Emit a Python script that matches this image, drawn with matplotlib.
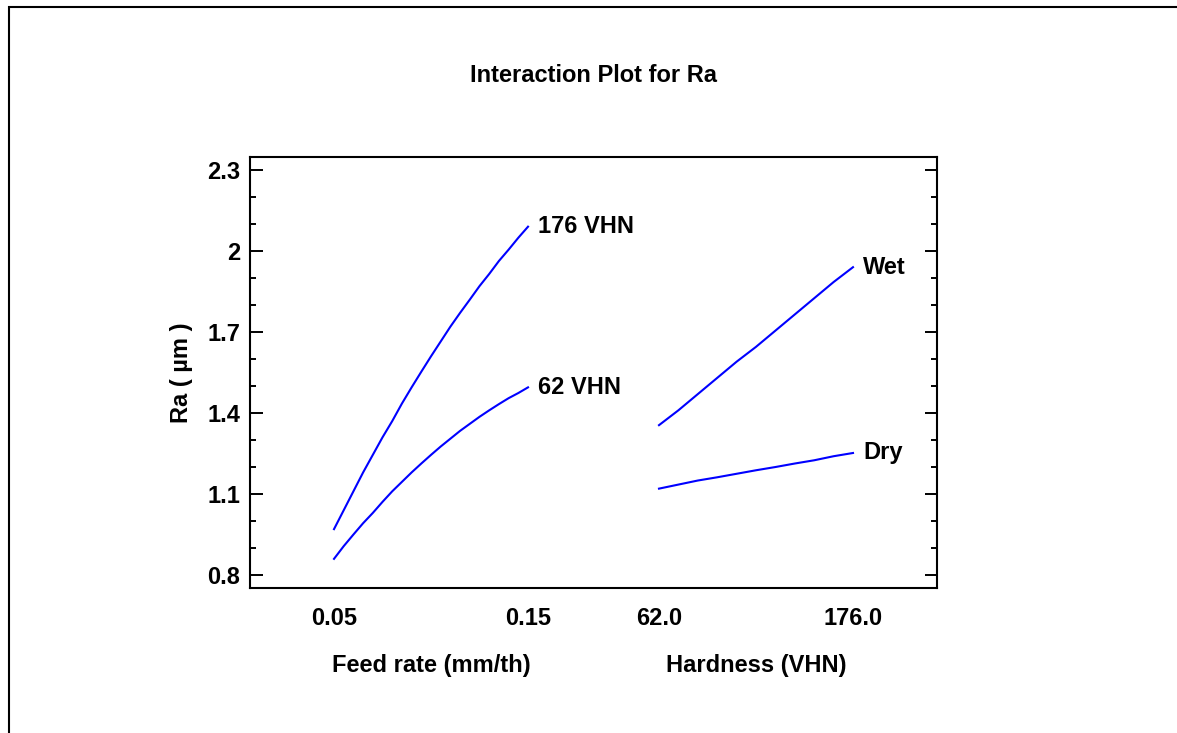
import numpy as np
import matplotlib
matplotlib.use("Agg")
import matplotlib.pyplot as plt
from matplotlib.patches import Rectangle
from matplotlib.ticker import MultipleLocator

plt.rcParams['font.family'] = ['Liberation Sans', 'DejaVu Sans']
plt.rcParams['font.weight'] = 'bold'

# fitted Ra along feed rate, one curve per hardness level
feed_rate = [0.050, 0.055, 0.060, 0.065, 0.070, 0.075, 0.080, 0.085, 0.090, 0.095, 0.100,
             0.105, 0.110, 0.115, 0.120, 0.125, 0.130, 0.135, 0.140, 0.145, 0.150]
ra_176_vhn = [0.97, 1.04, 1.11, 1.18, 1.245, 1.31, 1.37, 1.435, 1.495, 1.553, 1.61,
              1.665, 1.72, 1.771, 1.82, 1.87, 1.915, 1.963, 2.005, 2.049, 2.09]
ra_62_vhn = [0.86, 0.907, 0.95, 0.992, 1.03, 1.071, 1.11, 1.145, 1.18, 1.213, 1.245,
             1.276, 1.305, 1.334, 1.36, 1.386, 1.41, 1.433, 1.455, 1.474, 1.495]

# fitted Ra along hardness, one curve per cooling condition
hardness = [62.0, 73.4, 84.8, 96.2, 107.6, 119.0, 130.4, 141.8, 153.2, 164.6, 176.0]
ra_wet = [1.355, 1.41, 1.47, 1.53, 1.59, 1.645, 1.705, 1.765, 1.825, 1.885, 1.94]
ra_dry = [1.12, 1.135, 1.15, 1.162, 1.175, 1.188, 1.20, 1.213, 1.225, 1.24, 1.252]

feed_ticks = ['0.05', '0.15']
hard_ticks = ['62.0', '176.0']

# each factor is drawn in its own unit-wide slot along the x axis
slot_start = [0.0, 1.675]


def to_slot(values, k):
    v = np.asarray(values, dtype=float)
    return slot_start[k] + (v - v.min()) / (v.max() - v.min())


fig = plt.figure(figsize=(11.77, 7.33), dpi=100)
ax = fig.add_axes([0.2124, 0.1978, 0.5837, 0.588])

blue = '#0000ff'
series = [
    (to_slot(feed_rate, 0), ra_176_vhn, '176 VHN'),
    (to_slot(feed_rate, 0), ra_62_vhn, '62 VHN'),
    (to_slot(hardness, 1), ra_wet, 'Wet'),
    (to_slot(hardness, 1), ra_dry, 'Dry'),
]
for xs, ys, name in series:
    ax.plot(xs, ys, color=blue, lw=1.5)
    ax.annotate(name, (xs[-1], ys[-1]), xytext=(7.5, 0), textcoords='offset points',
                ha='left', va='center', fontsize=17, fontweight='bold')

ax.set_xlim(-0.433, 3.108)
ax.set_ylim(0.752, 2.348)

ax.yaxis.set_major_locator(MultipleLocator(0.3))
ax.yaxis.set_minor_locator(MultipleLocator(0.1))
ax.set_yticks([0.8, 1.1, 1.4, 1.7, 2.0, 2.3])
ax.set_yticklabels(['0.8', '1.1', '1.4', '1.7', '2', '2.3'])
ax.tick_params(axis='y', which='major', direction='in', length=9, width=1.4,
               left=True, right=True, labelsize=17, pad=7)
ax.tick_params(axis='y', which='minor', direction='in', length=4, width=1.4,
               left=True, right=True)

xt = [slot_start[0], slot_start[0] + 1, slot_start[1], slot_start[1] + 1]
ax.set_xticks(xt)
ax.set_xticklabels(feed_ticks + hard_ticks)
ax.tick_params(axis='x', length=0, labelsize=17, pad=14)

for s in ax.spines.values():
    s.set_linewidth(1.5)

ax.set_ylabel('Ra ( µm )', fontsize=17, fontweight='bold', va='center')
ax.yaxis.set_label_coords(-0.099, 0.5)

xlab = ax.get_xaxis_transform()
ax.text(slot_start[0] + 0.5, -0.1787, 'Feed rate (mm/th)', transform=xlab,
        ha='center', va='center', fontsize=17, fontweight='bold')
ax.text(slot_start[1] + 0.5, -0.1787, 'Hardness (VHN)', transform=xlab,
        ha='center', va='center', fontsize=17, fontweight='bold')

fig.text(593 / 1177, 1 - 76 / 733, 'Interaction Plot for Ra', ha='center', va='center',
         fontsize=17, fontweight='bold')

# outer frame (only the top and left edges fall inside the canvas)
fig.patches.append(Rectangle((9 / 1177, -0.2), 1.5, 1.2 - 7 / 733, transform=fig.transFigure,
                             fill=False, edgecolor='black', linewidth=1.5))

fig.savefig('out.png', dpi=100)
